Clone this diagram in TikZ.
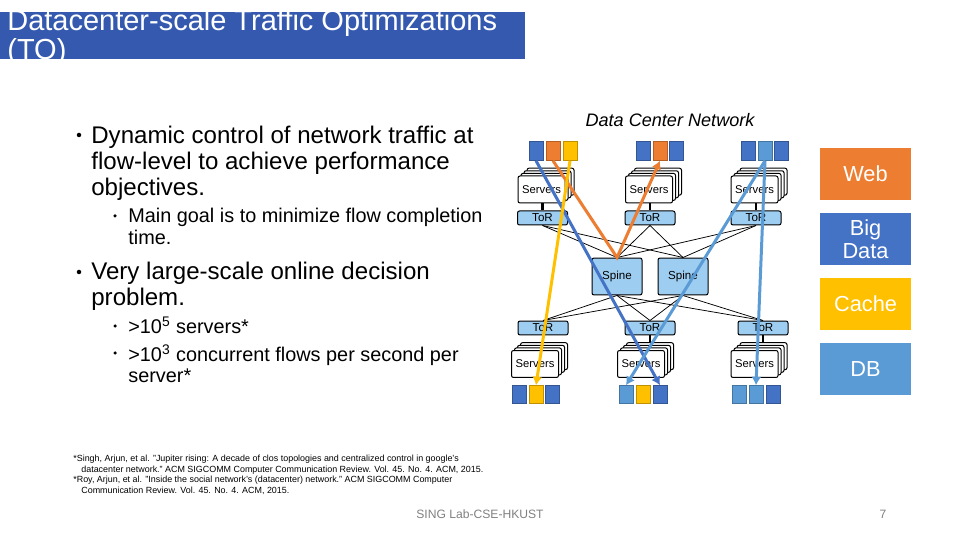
\documentclass[tikz,border=0pt]{standalone}
\usepackage{fontspec}
\setmainfont{Liberation Sans}
\usepackage{tikz}
\usetikzlibrary{arrows.meta}
\definecolor{titleblue}{HTML}{3459AE}
\definecolor{darkblue}{HTML}{4472C4}
\definecolor{lightblue}{HTML}{5B9BD5}
\definecolor{appred}{HTML}{ED7D31}
\definecolor{appyellow}{HTML}{FFC000}
\definecolor{switchblue}{HTML}{9DCDF0}
\tikzset{
  bodytext/.style={anchor=north west,inner sep=0pt,align=left,font=\fontsize{13.7}{14.8}\selectfont},
  subtext/.style={anchor=north west,inner sep=0pt,align=left,font=\fontsize{11.3}{12.2}\selectfont},
  reftext/.style={anchor=north west,inner sep=0pt,align=left,font=\fontsize{5.08}{6.1}\selectfont},
  dotmark/.style={circle,fill=black,inner sep=0pt,minimum size=#1},
  appbox/.style={draw=#1!75!black,fill=#1,line width=0.02cm,minimum width=0.28cm,minimum height=0.35cm,inner sep=0pt},
  switch/.style={draw=black,fill=switchblue,line width=0.02cm,rounded corners=0.04cm,inner sep=0pt,font=\fontsize{6.6}{7}\selectfont},
  tor/.style={switch,minimum width=1cm,minimum height=0.28cm},
  spine/.style={switch,minimum width=1cm,minimum height=0.74cm},
  servers/.style={draw=black,fill=white,line width=0.02cm,rounded corners=0.04cm,minimum width=0.94cm,minimum height=0.54cm,inner sep=0pt,font=\fontsize{6.4}{7}\selectfont},
  legend/.style={fill=#1,text=white,minimum width=1.82cm,minimum height=1.06cm,inner sep=0pt,align=center,font=\fontsize{12.4}{13.2}\selectfont},
  wire/.style={line width=0.015cm,black},
  flow/.style={line width=0.06cm,#1,-{Latex[length=0.17cm,width=0.2cm]}}
}
\begin{document}
\begin{tikzpicture}[x=0.02cm,y=-0.02cm]
\useasboundingbox (0,0) rectangle (960,540);
% title bar
\fill[titleblue] (0,12) rectangle (525,59);
\begin{scope}
\clip (0,12) rectangle (525,59);
\node[anchor=north west,inner sep=0pt,align=left,text=white,font=\fontsize{16.5}{16.6}\selectfont] (title) at (7,9) {Datacenter-scale Traffic Optimizations\\(TO)};
\end{scope}
% text on the left
\node[dotmark=0.09cm] (dota) at (79,135) {};
\node[bodytext] (dyn) at (91,126) {Dynamic control of network traffic at\\flow-level to achieve performance\\objectives.};
\node[dotmark=0.07cm] (dotb) at (115,216) {};
\node[subtext] (goal) at (128,208) {Main goal is to minimize flow completion\\time.};
\node[dotmark=0.09cm] (dotc) at (79,272) {};
\node[bodytext] (large) at (91,262) {Very large-scale online decision\\problem.};
\node[dotmark=0.07cm] (dotd) at (115,326) {};
\node[subtext] (srv) at (128,317) {>10\textsuperscript{5} servers*};
\node[dotmark=0.07cm] (dote) at (115,353) {};
\node[subtext] (conc) at (128,344) {>10\textsuperscript{3} concurrent flows per second per\\server*};
% references
\node[reftext] (refa) at (73,454.5) {*Singh, Arjun, et al. "Jupiter rising: A decade of clos topologies and centralized control in google's\\\hspace*{0.16cm}datacenter network." ACM SIGCOMM Computer Communication Review. Vol. 45. No. 4. ACM, 2015.};
\node[reftext] (refb) at (73,476) {*Roy, Arjun, et al. "Inside the social network's (datacenter) network." ACM SIGCOMM Computer\\\hspace*{0.16cm}Communication Review. Vol. 45. No. 4. ACM, 2015.};
\node[text=black!50,inner sep=0pt,font=\fontsize{6.9}{8}\selectfont] (foot) at (480,514) {SING Lab-CSE-HKUST};
\node[text=black!50,inner sep=0pt,font=\fontsize{6.9}{8}\selectfont] (page) at (883,514) {7};
\node[inner sep=0pt,font=\fontsize{10.3}{11}\itshape\selectfont] (dcn) at (670,120) {Data Center Network};
% server stacks
\foreach \name/\x/\y in {sa/541.5/189.5,sb/649/189.5,sc/754.5/189.5,sd/535/364,se/641/364,sf/754.5/364} {
  \foreach \d in {3,2,1} {
    \node[servers] (\name\d) at (\x+\d*3,\y-\d*2.6) {};
  }
  \node[servers] (\name) at (\x,\y) {Servers};
}
% switches
\node[tor] (ta) at (542.5,218) {ToR};
\node[tor] (tb) at (650,218) {ToR};
\node[tor] (tc) at (756,218) {ToR};
\node[tor] (td) at (543,328) {ToR};
\node[tor] (te) at (650,328) {ToR};
\node[tor] (tf) at (763,328) {ToR};
\node[spine] (spa) at (617,276.5) {Spine};
\node[spine] (spb) at (683,276.5) {Spine};
% wires
\foreach \a/\b in {ta/sa,tb/sb,tc/sc}
  \draw[line width=0.05cm] (\a.north) -- (\a.north |- \b.south);
\foreach \a/\b in {td/sd3,te/se3,tf/sf3}
  \draw[line width=0.05cm] (\a.south) -- (\a.south |- \b.north);
\foreach \a in {ta,tb,tc} {
  \draw[wire] (\a.south) -- (spa.north);
  \draw[wire] (\a.south) -- (spb.north);
}
\foreach \a in {td,te,tf} {
  \draw[wire] (\a.north) -- (spa.south);
  \draw[wire] (\a.north) -- (spb.south);
}
% app boxes
\foreach \name/\x/\col in {aa/536/darkblue,ab/553/appred,ac/570/appyellow,ad/643/darkblue,ae/660/appred,af/676/darkblue,ag/748/darkblue,ah/765/lightblue,ai/781.5/darkblue}
  \node[appbox=\col,minimum height=0.37cm] (\name) at (\x,151) {};
\foreach \name/\x/\col in {ba/519/darkblue,bb/536/appyellow,bc/552/darkblue,bd/626/lightblue,be/643/appyellow,bf/660/darkblue,bg/739/lightblue,bh/756/lightblue,bi/773/darkblue}
  \node[appbox=\col,minimum height=0.35cm] (\name) at (\x,394.5) {};
% flows
\draw[flow=darkblue] (aa.south) -- (bf.north);
\draw[flow=appred] (ab.south) -- (spa.north) -- (ae.south);
\draw[flow=appyellow] (ac.south) -- (bb.north);
\draw[flow=lightblue] (ah.south) -- (bd.north);
\draw[flow=lightblue] (ah.south) -- (bh.north);
% legend
\node[legend=appred] (web) at (865.5,174) {Web};
\node[legend=darkblue] (big) at (865.5,239) {Big\\Data};
\node[legend=appyellow] (cache) at (865.5,304) {Cache};
\node[legend=lightblue] (db) at (865.5,369) {DB};
\end{tikzpicture}
\end{document}
